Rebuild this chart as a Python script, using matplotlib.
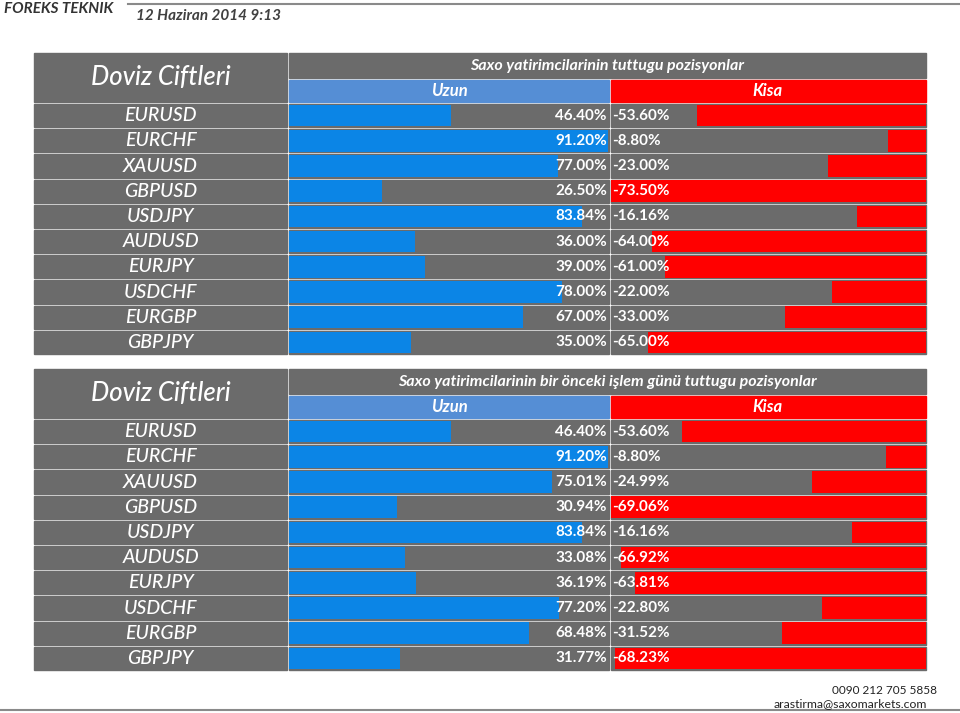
import matplotlib.pyplot as plt
from matplotlib.patches import Rectangle

plt.rcParams['font.family'] = ['Lato', 'DejaVu Sans']

pairs = ['EURUSD', 'EURCHF', 'XAUUSD', 'GBPUSD', 'USDJPY',
         'AUDUSD', 'EURJPY', 'USDCHF', 'EURGBP', 'GBPJPY']

# today
long_now = [46.40, 91.20, 77.00, 26.50, 83.84, 36.00, 39.00, 78.00, 67.00, 35.00]
short_now = [53.60, 8.80, 23.00, 73.50, 16.16, 64.00, 61.00, 22.00, 33.00, 65.00]

# previous trading day
long_prev = [46.40, 91.20, 75.01, 30.94, 83.84, 33.08, 36.19, 77.20, 68.48, 31.77]
short_prev = [53.60, 8.80, 24.99, 69.06, 16.16, 66.92, 63.81, 22.80, 31.52, 68.23]

title_now = 'Saxo yatirimcilarinin tuttugu pozisyonlar'
title_prev = 'Saxo yatirimcilarinin bir önceki işlem günü tuttugu pozisyonlar'

GRAY = '#6b6b6b'
BLUE = '#0b85e6'
HBLUE = '#558ed5'
RED = '#ff0000'

W, H = 960, 713
fig = plt.figure(figsize=(W / 100, H / 100), dpi=100)
bg = fig.add_axes([0, 0, 1, 1])
bg.set_xlim(0, W)
bg.set_ylim(H, 0)
bg.axis('off')

# header
bg.plot([128, 960], [3.5, 3.5], color='#8a8a8a', lw=1.5)
bg.text(4, 9, 'FOREKS TEKNIK', fontsize=11, fontweight='bold', style='italic',
        color='#333333', va='center')
bg.text(136, 16, '12 Haziran 2014 9:13', fontsize=11, fontweight='bold',
        style='italic', color='#404040', va='center')

# footer
bg.text(937, 691, '0090 212 705 5858', fontsize=8.5, color='#222222',
        ha='right', va='center')
bg.text(927, 704, 'arastirma@saxomarkets.com', fontsize=8.8, color='#222222',
        ha='right', va='center')
bg.plot([0, 960], [710, 710], color='#8a8a8a', lw=1.5)

x_l0, x_l1 = 34, 287
x_b0, x_mid, x_b1 = 289, 609, 926
row_h = 25.2


def table(top, title, longs, shorts, short_px):
    # header cells
    bg.add_patch(Rectangle((x_l0, top), x_l1 - x_l0, 49, color=GRAY))
    bg.text((x_l0 + x_l1) / 2, top + 25, 'Doviz Ciftleri', fontsize=18.5,
            style='italic', fontweight='medium', color='white',
            ha='center', va='center')
    bg.add_patch(Rectangle((x_b0, top), x_b1 - x_b0, 25, color=GRAY))
    bg.text(607, top + 13, title, fontsize=11.5, style='italic',
            fontweight='bold', color='white', ha='center', va='center')
    bg.add_patch(Rectangle((x_b0, top + 27), x_mid - x_b0, 22, color=HBLUE))
    bg.add_patch(Rectangle((x_mid + 1.5, top + 27), x_b1 - x_mid - 1.5, 22, color=RED))
    bg.text((x_b0 + x_mid) / 2, top + 38, 'Uzun', fontsize=12, style='italic',
            fontweight='bold', color='white', ha='center', va='center')
    bg.text((x_mid + x_b1) / 2, top + 38, 'Kisa', fontsize=12, style='italic',
            fontweight='bold', color='white', ha='center', va='center')

    y0 = top + 50
    n = len(longs)
    for i, name in enumerate(pairs):
        y = y0 + i * row_h
        bg.add_patch(Rectangle((x_l0, y + 1), x_l1 - x_l0, row_h - 2, color=GRAY))
        bg.add_patch(Rectangle((x_b0, y + 1), x_mid - x_b0, row_h - 2, color=GRAY))
        bg.add_patch(Rectangle((x_mid + 1.5, y + 1), x_b1 - x_mid - 1.5, row_h - 2,
                               color=GRAY))
        bg.text((x_l0 + x_l1) / 2, y + row_h / 2, name, fontsize=14,
                style='italic', fontweight='medium', color='white',
                ha='center', va='center')

    y1 = y0 + n * row_h
    bottom = 1 - y1 / H
    height = (y1 - y0) / H

    axl = fig.add_axes([x_b0 / W, bottom, (x_mid - x_b0) / W, height])
    axl.barh(range(n), longs, height=0.86, color=BLUE, zorder=2)
    axl.set_xlim(0, (x_mid - x_b0) / 350 * 100)
    axl.set_ylim(n - 0.5, -0.5)
    axl.axis('off')
    for i, v in enumerate(longs):
        axl.text(0.993, i, f'{v:.2f}%', transform=axl.get_yaxis_transform(),
                 fontsize=11, fontweight='bold', color='white',
                 ha='right', va='center', zorder=5)

    axs = fig.add_axes([(x_mid + 1.5) / W, bottom, (x_b1 - x_mid - 1.5) / W, height])
    axs.barh(range(n), shorts, height=0.86, color=RED, zorder=2)
    axs.set_xlim((x_b1 - x_mid - 1.5) / short_px * 100, 0)
    axs.set_ylim(n - 0.5, -0.5)
    axs.axis('off')
    for i, v in enumerate(shorts):
        axs.text(0.006, i, f'-{v:.2f}%', transform=axs.get_yaxis_transform(),
                 fontsize=11, fontweight='bold', color='white',
                 ha='left', va='center', zorder=5)
    for a in (axl, axs):
        a.patch.set_visible(False)


table(53, title_now, long_now, short_now, 428)
table(369, title_prev, long_prev, short_prev, 456)

fig.savefig('out.png', dpi=100)
